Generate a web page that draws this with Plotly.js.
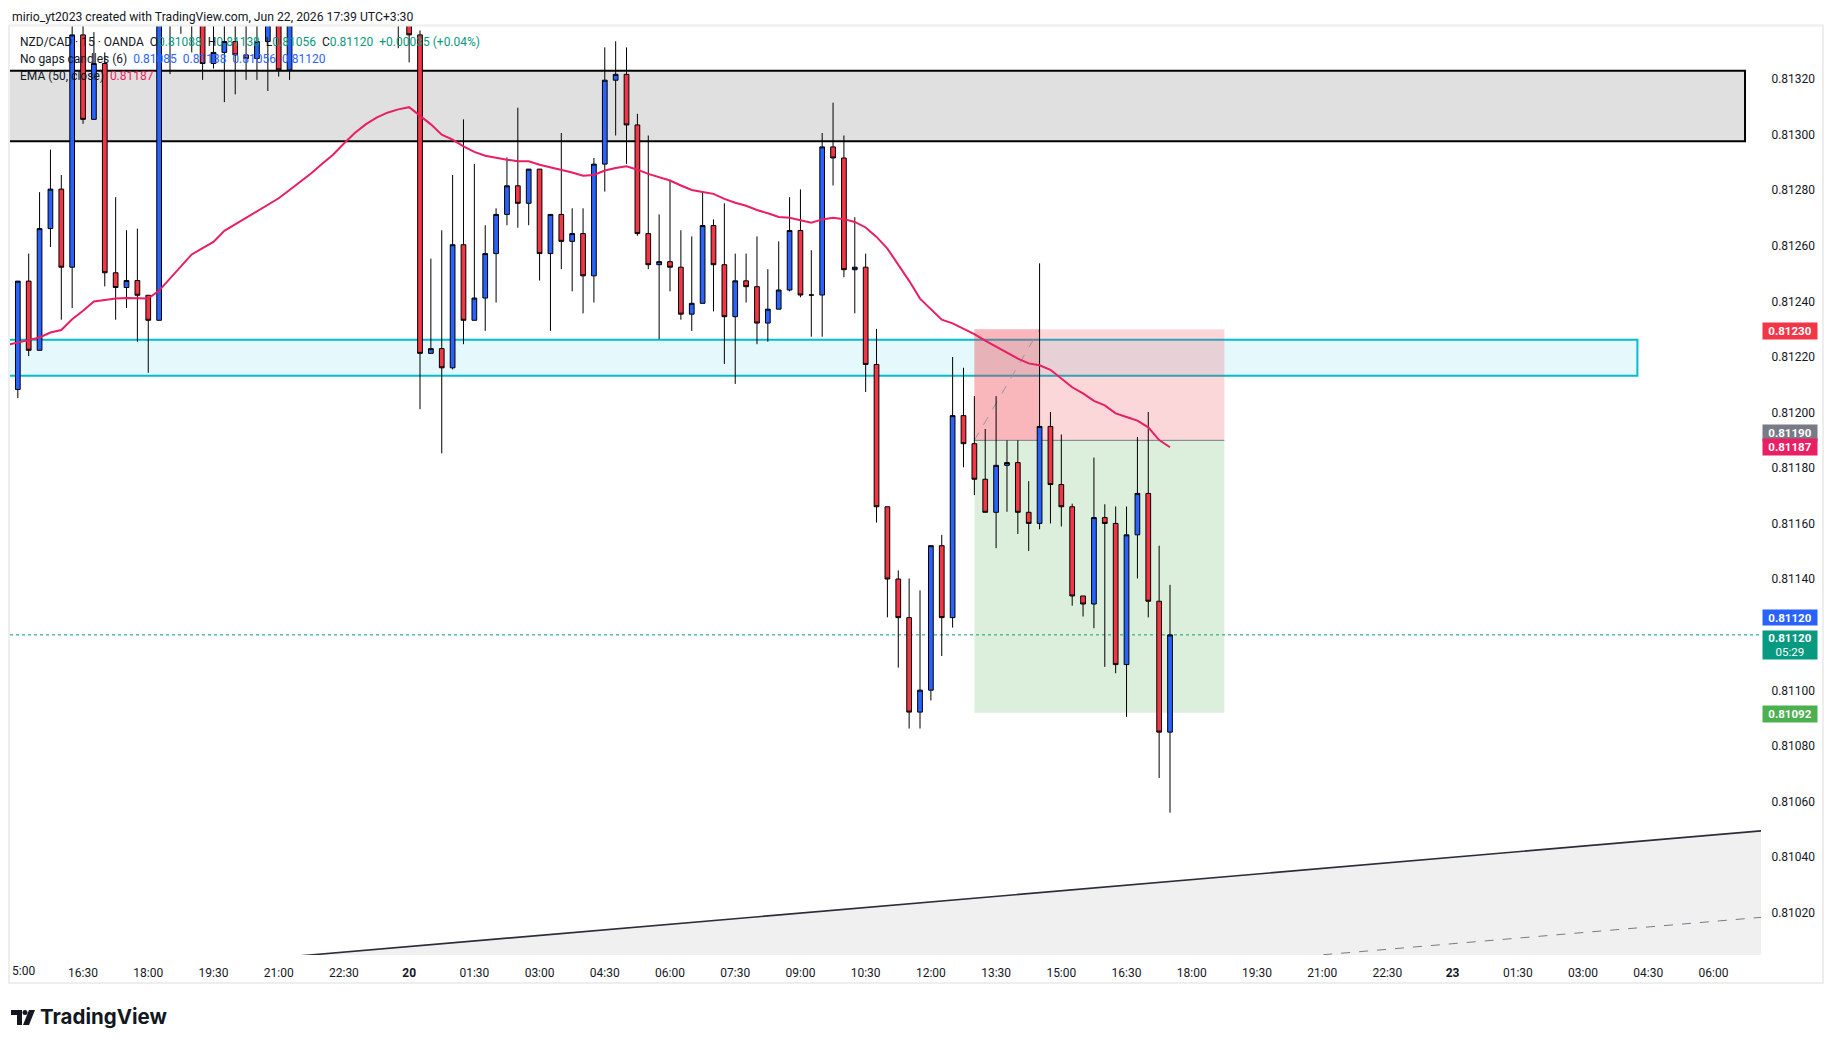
<!DOCTYPE html>
<html>
<head>
<meta charset="utf-8">
<script src="https://cdn.plot.ly/plotly-3.0.1.min.js"></script>
<style>
html,body{margin:0;padding:0;background:#fff;}
#chart{width:1833px;height:1048px;}
</style>
</head>
<body>
<div id="chart"></div>
<script>
// ---- candle data (bar index, 15-minute bars; index 0 = 15:00) ----
const candleX = [-1,0,1,2,3,4,5,6,7,8,9,10,11,12,13,14,15,16,17,18,19,20,21,22,23,24,25,
  35,36,37,38,39,40,41,42,43,44,45,46,47,48,49,50,51,52,53,54,55,56,57,58,59,60,61,62,63,64,65,66,67,68,69,70,
  71,72,73,74,75,76,77,78,79,80,81,82,83,84,85,86,87,88,89,90,91,92,93,94,95,96,97,98,99,100,101,102,103,104,105,106];
const openP = [0.81212,0.812083,0.812473,0.812224,0.812662,0.812804,0.812523,0.813359,0.813055,0.813256,0.812503,0.81245,0.812475,0.812422,0.812332,0.81345,0.81344,0.81346,0.81345,0.813256,0.813296,0.813335,0.813287,0.813274,0.813335,0.81342,0.813233,
  0.81345,0.81345,0.813359,0.812213,0.81223,0.812161,0.812604,0.812332,0.812412,0.812572,0.812713,0.812816,0.812753,0.812876,0.812572,0.812713,0.812616,0.812644,0.812492,0.812894,0.813196,0.813217,0.813035,0.812644,0.812532,0.812543,0.812523,0.812354,0.812393,0.812673,0.812532,0.812345,0.812474,0.812453,0.812322,0.812372,
  0.812441,0.812655,0.812423,0.812423,0.812956,0.812916,0.812514,0.812523,0.812173,0.811661,0.811401,0.811262,0.810922,0.811001,0.811521,0.811262,0.811989,0.811888,0.81176,0.811641,0.81181,0.81182,0.811641,0.811601,0.81195,0.811741,0.811661,0.81134,0.811311,0.811622,0.811601,0.811093,0.81156,0.811709,0.811321,0.81085];
const highP = [0.81213,0.812473,0.812572,0.812793,0.812946,0.812855,0.81345,0.81345,0.813369,0.813296,0.812775,0.812656,0.812662,0.812422,0.8135,0.8135,0.8135,0.8135,0.8135,0.8134,0.8134,0.8134,0.8134,0.8134,0.81345,0.81345,0.81345,
  0.8135,0.8135,0.813375,0.812554,0.812656,0.812855,0.813055,0.812895,0.812674,0.812735,0.812918,0.813097,0.812876,0.812876,0.812713,0.813006,0.812735,0.812735,0.812916,0.813314,0.813336,0.813314,0.813075,0.812997,0.812713,0.812834,0.812656,0.812634,0.812795,0.812695,0.812753,0.812572,0.812572,0.812634,0.812516,0.812616,
  0.812775,0.812803,0.812584,0.813006,0.813115,0.812997,0.812703,0.812572,0.812301,0.811661,0.811432,0.811403,0.81136,0.811521,0.81156,0.8122,0.812161,0.812059,0.811941,0.812059,0.8119,0.8119,0.811753,0.812537,0.812002,0.811921,0.811672,0.81134,0.811838,0.81167,0.811662,0.811662,0.811912,0.812002,0.811521,0.81138];
const lowP = [0.81205,0.812052,0.812203,0.812224,0.812596,0.812334,0.812376,0.813039,0.813055,0.812454,0.812334,0.812376,0.812255,0.812143,0.812332,0.813218,0.813363,0.813296,0.813197,0.813238,0.813117,0.813145,0.813197,0.813197,0.813157,0.813209,0.813197,
  0.813311,0.81326,0.812012,0.812213,0.811853,0.812155,0.812246,0.812332,0.812294,0.812396,0.812674,0.812665,0.812674,0.812475,0.812294,0.812516,0.812436,0.812357,0.812396,0.812795,0.812997,0.812895,0.812636,0.812516,0.812264,0.812436,0.812334,0.812294,0.812393,0.812364,0.812175,0.812103,0.812396,0.812246,0.812255,0.812372,
  0.812436,0.812415,0.812273,0.812273,0.812817,0.812487,0.812357,0.812074,0.811604,0.811263,0.811082,0.810863,0.810863,0.810964,0.811124,0.811226,0.811803,0.811703,0.811641,0.811512,0.811643,0.811563,0.811502,0.81158,0.811601,0.81159,0.811305,0.811266,0.811224,0.811085,0.811062,0.810905,0.811403,0.811263,0.810685,0.81056];
const closeP = [0.812083,0.812473,0.812224,0.812662,0.812804,0.812523,0.813359,0.813055,0.813256,0.812503,0.81245,0.812475,0.812422,0.812332,0.81345,0.81344,0.81346,0.81345,0.813256,0.813296,0.813335,0.813287,0.813274,0.813335,0.81342,0.813233,0.81342,
  0.81347,0.813359,0.812213,0.81223,0.812161,0.812604,0.812332,0.812412,0.812572,0.812713,0.812816,0.812753,0.812876,0.812572,0.812713,0.812616,0.812644,0.812492,0.812894,0.813196,0.813217,0.813035,0.812644,0.812532,0.812543,0.812523,0.812354,0.812393,0.812673,0.812532,0.812345,0.812474,0.812453,0.812322,0.812372,0.812441,
  0.812655,0.812423,0.812423,0.812956,0.812916,0.812514,0.812523,0.812173,0.811661,0.811401,0.811262,0.810922,0.811001,0.811521,0.811262,0.811989,0.811888,0.81176,0.811641,0.81181,0.81182,0.811641,0.811601,0.81195,0.811741,0.811661,0.81134,0.811311,0.811622,0.811601,0.811093,0.81156,0.811709,0.811321,0.81085,0.8112];

// ---- EMA (50, close) ----
const emaX = [];
for (let i = -1; i <= 106; i++) emaX.push(i);
const emaY = [0.812243,0.812252,0.812261,0.81227,0.812288,0.812297,0.812336,0.812366,0.8124,0.812406,0.81241,0.812412,0.812412,0.81241,0.812439,0.812481,0.812523,0.812569,0.812592,0.812614,0.812654,0.812678,0.812702,0.812726,0.812749,0.812771,0.812801,
  0.812831,0.812861,0.812895,0.812928,0.812968,0.813006,0.813037,0.813061,0.813079,0.813091,0.813099,0.813067,0.813037,0.813,0.812982,0.812958,0.812938,0.812924,0.812916,0.81291,0.812904,0.812904,0.812892,0.812883,0.812874,0.812864,0.812852,
  0.812855,0.812871,0.81288,0.812886,0.812874,0.812859,0.812847,0.812835,0.812817,0.812801,0.812794,0.812787,0.812769,0.812755,0.812744,0.812729,0.812717,0.812704,0.812701,0.812692,0.812683,0.812695,0.812701,0.812696,0.812686,0.812666,0.812632,
  0.81259,0.812531,0.812474,0.81241,0.812373,0.812334,0.812321,0.812301,0.812282,0.812259,0.812238,0.812216,0.812194,0.812177,0.81217,0.812154,0.812124,0.812091,0.812069,0.812042,0.812026,0.811997,0.811984,0.811971,0.811947,0.811901,0.811875];

// ---- axis ticks (0.81120 is covered by the price badges) ----
const xTickIdx = [6,12,18,24,30,36,42,48,54,60,66,72,78,84,90,96,102,108,114,120,126,132,138,144,150,156];
const xTickText = ['16:30','18:00','19:30','21:00','22:30','<b>20</b>','01:30','03:00','04:30','06:00','07:30','09:00','10:30',
  '12:00','13:30','15:00','16:30','18:00','19:30','21:00','22:30','<b>23</b>','01:30','03:00','04:30','06:00'];
const yTicks = [0.8102,0.8104,0.8106,0.8108,0.8110,0.8114,0.8116,0.8118,0.8120,0.8122,0.8124,0.8126,0.8128,0.8130,0.8132];

// ---- drawings ----
const supplyZone = [0.812976, 0.81323];
const supplyEndX = 158.9;
const demandZone = [0.812132, 0.812262];
const demandEndX = 149;
const posEntry = 0.8119, posStop = 0.8123, posTarget = 0.81092;
const posStartX = 88, posEndX = 111, stopHitX = 94;
const trendX = [27.5, 160.2];
const trendY = [0.81005, 0.810494];
const channelOffset = 0.000311;
const lastPrice = 0.8112;
const emaLast = 0.81187;

const xRange = [-0.72, 160.37];
const yRange = [0.810048, 0.813391];

const slope = (trendY[1]-trendY[0])/(trendX[1]-trendX[0]);
const tl = x => trendY[0] + slope*(x - trendX[0]);
const xa = -2, xb = 162;

const candles = {
  type: 'candlestick', x: candleX, open: openP, high: highP, low: lowP, close: closeP,
  increasing: {line: {color: '#000000', width: 1}, fillcolor: '#2962ff'},
  decreasing: {line: {color: '#000000', width: 1}, fillcolor: '#f23645'},
  whiskerwidth: 0, hoverinfo: 'skip', showlegend: false
};
const ema = {
  type: 'scatter', mode: 'lines', x: emaX, y: emaY,
  line: {color: '#e91e63', width: 2}, hoverinfo: 'skip', showlegend: false
};

const shapes = [
  {type: 'path', xref: 'x', yref: 'y', layer: 'below',
   path: `M ${xa} ${tl(xa)} L ${xb} ${tl(xb)} L ${xb} ${tl(xb)-3*channelOffset} L ${xa} ${tl(xa)-3*channelOffset} Z`,
   fillcolor: '#f0f0f0', line: {width: 0}},
  {type: 'rect', xref: 'x', yref: 'y', layer: 'below', x0: -5, x1: supplyEndX, y0: supplyZone[0], y1: supplyZone[1],
   fillcolor: '#e0e0e0', line: {color: '#000000', width: 2}},
  {type: 'rect', xref: 'x', yref: 'y', layer: 'below', x0: -5, x1: demandEndX, y0: demandZone[0], y1: demandZone[1],
   fillcolor: 'rgba(0,188,212,0.1)', line: {color: '#00bcd4', width: 2}},
  {type: 'rect', xref: 'x', yref: 'y', layer: 'below', x0: posStartX, x1: posEndX, y0: posEntry, y1: posStop,
   fillcolor: 'rgba(242,54,69,0.2)', line: {width: 0}},
  {type: 'rect', xref: 'x', yref: 'y', layer: 'below', x0: posStartX, x1: stopHitX, y0: posEntry, y1: posStop,
   fillcolor: 'rgba(242,54,69,0.2)', line: {width: 0}},
  {type: 'rect', xref: 'x', yref: 'y', layer: 'below', x0: posStartX, x1: posEndX, y0: posTarget, y1: posEntry,
   fillcolor: 'rgba(76,175,80,0.2)', line: {width: 0}},
  {type: 'line', xref: 'x', yref: 'y', layer: 'below', x0: posStartX, x1: posEndX, y0: posEntry, y1: posEntry,
   line: {color: '#787b86', width: 1}},
  {type: 'line', xref: 'x', yref: 'y', layer: 'below', x0: posStartX, x1: stopHitX, y0: posEntry, y1: posStop,
   line: {color: '#9598a1', width: 1, dash: 'dash'}},
  {type: 'line', xref: 'x', yref: 'y', layer: 'below', x0: xa, x1: xb, y0: tl(xa), y1: tl(xb),
   line: {color: '#2a2e39', width: 1.6}},
  {type: 'line', xref: 'x', yref: 'y', layer: 'below', x0: xa, x1: xb, y0: tl(xa)-channelOffset, y1: tl(xb)-channelOffset,
   line: {color: '#787b86', width: 1, dash: 'dash'}},
  {type: 'line', xref: 'paper', yref: 'y', layer: 'below', x0: 0, x1: 1, y0: lastPrice, y1: lastPrice,
   line: {color: '#089981', width: 1, dash: 'dot'}},
  {type: 'rect', xref: 'paper', yref: 'paper', layer: 'above', x0: -0.0006, x1: 1.0354, y0: -0.0301, y1: 1.0005,
   fillcolor: 'rgba(0,0,0,0)', line: {color: '#eeeeee', width: 2}}
];

function badge(y, text, color, yshift, h) {
  return {xref: 'paper', yref: 'y', x: 1, y: y, xanchor: 'left', yanchor: 'middle', xshift: 1, yshift: yshift || 0,
    text: text, showarrow: false, bgcolor: color, width: 50, height: h || 12, borderpad: 2, align: 'center',
    font: {family: 'Roboto, sans-serif', size: 11.5, color: '#ffffff'}};
}
const teal = '#089981';
const legendFont = {family: 'Roboto, sans-serif', size: 12, color: '#131722'};
const sp = '&nbsp;';
const annotations = [
  {xref: 'paper', yref: 'paper', x: 0, y: 1.0097, xanchor: 'left', yanchor: 'middle', showarrow: false,
   text: 'mirio_yt2023 created with TradingView.com, Jun 22, 2026 17:39 UTC+3:30',
   font: {family: 'Roboto, sans-serif', size: 12.2, color: '#131722'}},
  {xref: 'paper', yref: 'paper', x: 0.0046, y: 0.9831, xanchor: 'left', yanchor: 'middle', showarrow: false, font: legendFont,
   text: 'NZD/CAD · 15 · OANDA' + sp + sp + 'O<span style="color:' + teal + '">0.81088</span>' + sp + sp +
     'H<span style="color:' + teal + '">0.81138</span>' + sp + sp + 'L<span style="color:' + teal + '">0.81056</span>' + sp + sp +
     'C<span style="color:' + teal + '">0.81120</span>' + sp + sp + '<span style="color:' + teal + '">+0.00035 (+0.04%)</span>'},
  {xref: 'paper', yref: 'paper', x: 0.0046, y: 0.9645, xanchor: 'left', yanchor: 'middle', showarrow: false, font: legendFont,
   text: 'No gaps candles (6)' + sp + sp + '<span style="color:#2962ff">0.81085' + sp + sp + '0.81138' + sp + sp + '0.81056' + sp + sp + '0.81120</span>'},
  {xref: 'paper', yref: 'paper', x: 0.0046, y: 0.9465, xanchor: 'left', yanchor: 'middle', showarrow: false, font: legendFont,
   text: 'EMA (50, close)' + sp + sp + '<span style="color:#e91e63">0.81187</span>'},
  {xref: 'paper', yref: 'paper', x: 0, y: -0.0172, xanchor: 'left', yanchor: 'middle', showarrow: false,
   text: '5:00', font: {family: 'Roboto, sans-serif', size: 12, color: '#131722'}},
  badge(posStop, '<b>0.81230</b>', '#f23645', -2),
  badge(posEntry, '<b>0.81190</b>', '#787b86', 7),
  badge(emaLast, '<b>0.81187</b>', '#e91e63', 2),
  badge(lastPrice, '<b>0.81120</b>', '#2962ff', 17, 11),
  badge(lastPrice, '<b>0.81120</b><br>05:29', '#089981', -10, 24),
  badge(posTarget, '<b>0.81092</b>', '#4caf50', -1),
  {xref: 'paper', yref: 'paper', x: 0.016, y: -0.0667, xanchor: 'left', yanchor: 'middle', showarrow: false,
   text: '<b>TradingView</b>', font: {family: 'Inter, Roboto, sans-serif', size: 20.5, color: '#131722'}}
];

const px = v => (v - 10) / 1751;
const py = v => (955 - v) / 929;
shapes.push({type: 'path', xref: 'paper', yref: 'paper', layer: 'above',
  path: `M ${px(11)} ${py(1010)} L ${px(22)} ${py(1010)} L ${px(22)} ${py(1025)} L ${px(17)} ${py(1025)} L ${px(17)} ${py(1015)} L ${px(11)} ${py(1015)} Z`,
  fillcolor: '#131722', line: {width: 0}});
shapes.push({type: 'circle', xref: 'paper', yref: 'paper', layer: 'above',
  x0: px(22.5), x1: px(27.5), y0: py(1010), y1: py(1015), fillcolor: '#131722', line: {width: 0}});
shapes.push({type: 'path', xref: 'paper', yref: 'paper', layer: 'above',
  path: `M ${px(29)} ${py(1010)} L ${px(35)} ${py(1010)} L ${px(29)} ${py(1025)} L ${px(23)} ${py(1025)} Z`,
  fillcolor: '#131722', line: {width: 0}});

const layout = {
  width: 1833, height: 1048,
  margin: {l: 10, r: 72, t: 26, b: 93},
  paper_bgcolor: '#ffffff', plot_bgcolor: '#ffffff',
  showlegend: false, dragmode: false, boxgap: 0.38,
  font: {family: 'Roboto, sans-serif', color: '#131722'},
  xaxis: {range: xRange, rangeslider: {visible: false}, showgrid: false, zeroline: false, showline: false,
    tickmode: 'array', tickvals: xTickIdx, ticktext: xTickText, ticks: 'outside', ticklen: 7, tickcolor: 'rgba(0,0,0,0)',
    tickfont: {family: 'Roboto, sans-serif', size: 12, color: '#131722'}, fixedrange: true},
  yaxis: {range: yRange, side: 'right', showgrid: false, zeroline: false, showline: false,
    tickmode: 'array', tickvals: yTicks, tickformat: '.5f', ticks: 'outside', ticklen: 7, tickcolor: 'rgba(0,0,0,0)',
    tickfont: {family: 'Roboto, sans-serif', size: 12, color: '#131722'}, fixedrange: true},
  shapes: shapes,
  annotations: annotations
};

Plotly.newPlot('chart', [candles, ema], layout, {displayModeBar: false, staticPlot: true});
</script>
</body>
</html>
